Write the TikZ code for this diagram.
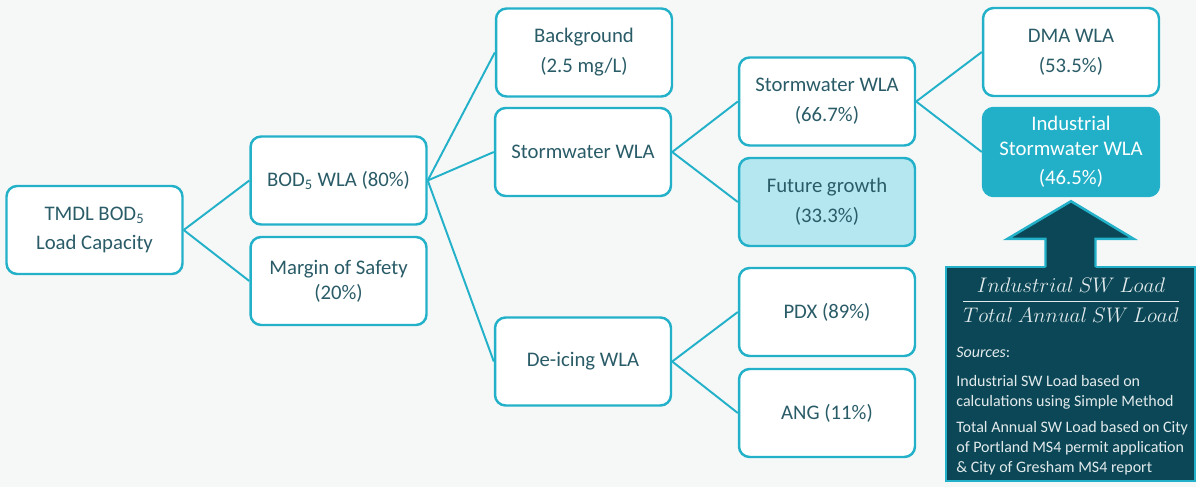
\documentclass[tikz,border=0pt]{standalone}
\usepackage{amsmath}
\usepackage{fontspec}
\setmainfont{Carlito}
\usepackage{tikz}
\usetikzlibrary{positioning,calc}
\definecolor{PageFill}{HTML}{F6F7F7}
\definecolor{LineTeal}{HTML}{22B1C9}
\definecolor{TextTeal}{HTML}{2A5C68}
\definecolor{GrowthFill}{HTML}{B4E7F0}
\definecolor{TargetFill}{HTML}{22B0C8}
\definecolor{PanelFill}{HTML}{0B4756}
\definecolor{PanelText}{HTML}{E2EAEC}
\tikzset{
  every node/.style={
    font=\fontsize{11.8}{14}\selectfont
  },
  allocation/.style={
    shape=rectangle,
    rounded corners=6pt,
    draw=LineTeal,
    line width=1.4pt,
    fill=white,
    text=TextTeal,
    minimum width=3.52cm,
    minimum height=1.76cm,
    align=center,
    inner sep=2pt
  },
  growth/.style={
    allocation,
    fill=GrowthFill
  },
  target/.style={
    allocation,
    fill=TargetFill,
    text=white
  },
  branch/.style={
    draw=LineTeal,
    line width=1.1pt
  },
  panel/.style={
    shape=rectangle,
    draw=LineTeal,
    line width=1.4pt,
    fill=PanelFill,
    minimum width=4.98cm,
    minimum height=4.28cm
  },
  ratio/.style={
    text=PanelText,
    font=\fontsize{12}{14}\selectfont,
    inner sep=0pt
  },
  sources/.style={
    text=PanelText,
    font=\fontsize{9.1}{11.6}\selectfont,
    align=left,
    inner sep=0pt
  }
}
\begin{document}
\begin{tikzpicture}[x=0.02cm,y=-0.02cm]
    \path[use as bounding box, fill=PageFill] (0,0) rectangle (1196,487);
    \node[allocation] (capacity) at (94.5,230) {TMDL BOD\textsubscript{5}\\[3pt]Load Capacity};
    \node[allocation] (wla) at (338.5,180.5) {BOD\textsubscript{5} WLA (80\%)};
    \node[allocation] (safety) at (338.5,281) {Margin of Safety\\(20\%)};
    \node[allocation] (background) at (584,52.5) {Background\\[3pt](2.5 mg/L)};
    \node[allocation] (stormwater) at (583,152) {Stormwater WLA};
    \node[allocation] (deicing) at (583,361.5) {De-icing WLA};
    \node[allocation] (swshare) at (827,101.5) {Stormwater WLA\\[3pt](66.7\%)};
    \node[growth] (future) at (827,202) {Future growth\\[3pt](33.3\%)};
    \node[allocation] (pdx) at (827,312) {PDX (89\%)};
    \node[allocation] (ang) at (827,413) {ANG (11\%)};
    \node[allocation] (dma) at (1071,52) {DMA WLA\\[3pt](53.5\%)};
    \node[target] (industrial) at (1071,152) {Industrial\\Stormwater WLA\\[3pt](46.5\%)};
    \draw[branch] (capacity.east) -- (wla.west);
    \draw[branch] (capacity.east) -- (safety.west);
    \draw[branch] (wla.east) -- (background.west);
    \draw[branch] (wla.east) -- (stormwater.west);
    \draw[branch] (wla.east) -- (deicing.west);
    \draw[branch] (stormwater.east) -- (swshare.west);
    \draw[branch] (stormwater.east) -- (future.west);
    \draw[branch] (swshare.east) -- (dma.west);
    \draw[branch] (swshare.east) -- (industrial.west);
    \draw[branch] (deicing.east) -- (pdx.west);
    \draw[branch] (deicing.east) -- (ang.west);
    \node[panel] (note) at (1070.5,374) {};
    \fill[PanelFill] ($(note.north)+(-25,3)$) -- ++(0,-30) -- ++(-38,0) -- ($(industrial.south)+(0,4)$) -- ($(note.north)+(63,-27)$) -- ++(-38,0) -- ++(0,30) -- cycle;
    \draw[LineTeal, line width=1.4pt] ($(note.north)+(-25,1)$) -- ++(0,-28) -- ++(-38,0) -- ($(industrial.south)+(0,4)$) -- ($(note.north)+(63,-27)$) -- ++(-38,0) -- ++(0,28);
    \node[ratio] (fraction) at (1071,300) {$\genfrac{}{}{1pt}{0}{Industrial\ SW\ Load}{Total\ Annual\ SW\ Load}$};
    \node[sources, anchor=north west] (basis) at (956,347) {\textit{Sources}:\\[4.5pt]Industrial SW Load based on\\calculations using Simple Method\\[3pt]Total Annual SW Load based on City\\of Portland MS4 permit application\\\& City of Gresham MS4 report};
\end{tikzpicture}
\end{document}
